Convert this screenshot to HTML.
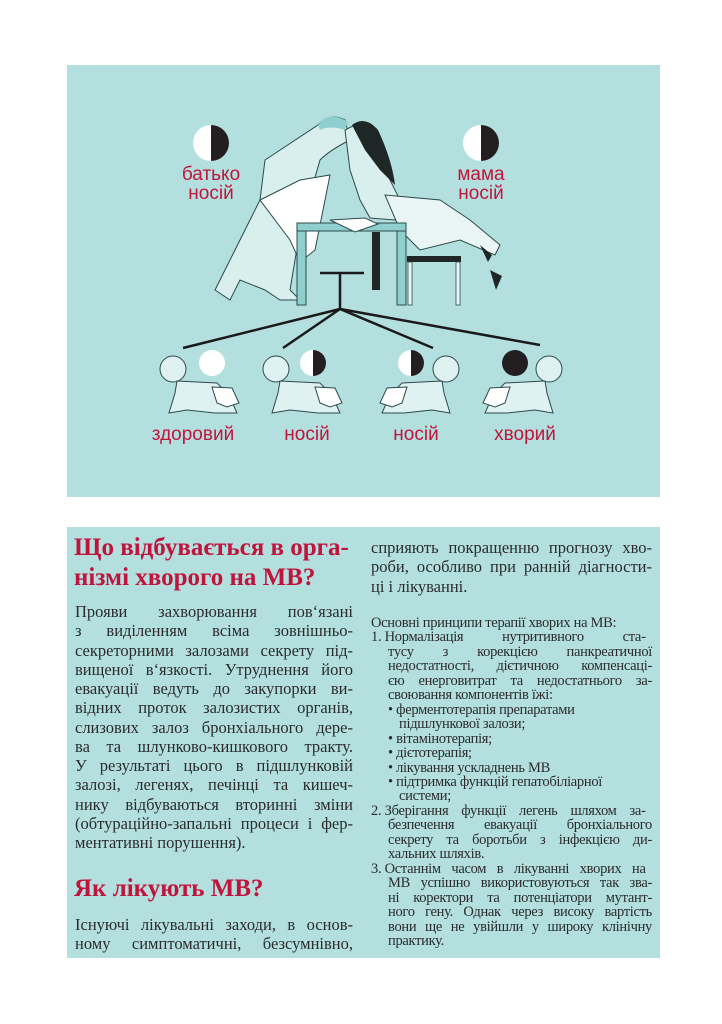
<!DOCTYPE html>
<html><head><meta charset="utf-8">
<style>
body{margin:0;width:722px;height:1024px;background:#fff;position:relative;overflow:hidden;font-family:"Liberation Serif","DejaVu Serif",serif;color:#2b2b2b}
.panel{position:absolute;left:67px;width:593px;background:#b3e0df}
.l{position:absolute;white-space:nowrap;font-size:16.5px;line-height:19.25px}
.j{text-align:justify;text-align-last:justify;white-space:normal}
.h{position:absolute;color:#c0143c;font-weight:bold;font-size:25px;line-height:30px;white-space:nowrap}
.r{position:absolute;white-space:nowrap;font-size:14.5px;line-height:14.45px;letter-spacing:-0.3px}
.lab{position:absolute;font-family:"Liberation Sans","DejaVu Sans",sans-serif;color:#c0143c;font-size:19px;text-align:center;line-height:19px}
</style></head><body>
<div class="panel" style="top:65px;height:432px"></div>
<div class="panel" style="top:527px;height:431px"></div>

<svg style="position:absolute;left:0;top:0" width="722" height="520">
<circle cx="211" cy="143" r="18" fill="#fff"/><path d="M211 125 A18 18 0 0 1 211 161 Z" fill="#231f20"/>
<circle cx="481" cy="143" r="18" fill="#fff"/><path d="M481 125 A18 18 0 0 1 481 161 Z" fill="#231f20"/>
<g fill="#d9efee" stroke="#2b4a4a" stroke-width="1">
<path d="M318 125 Q330 112 345 120 L350 140 Q330 150 320 160 L300 230 L290 290 L300 300 L280 300 L265 290 L240 280 L230 300 L215 290 L235 250 L260 200 L265 160 Z"/>
<path d="M260 200 L300 180 L330 175 L315 250 L300 262 L290 240 Z" fill="#fff"/>
<path d="M345 130 L355 125 L375 130 L380 160 L400 200 L395 220 L370 218 L360 200 L350 170 Z"/>
<path d="M385 195 L440 200 L470 220 L500 245 L495 255 L460 240 L420 250 L410 240 L400 230 Z" fill="#e9f6f5"/>
</g>
<path d="M318 125 Q330 110 348 122 L345 130 Q330 125 320 130 Z" fill="#8fcfcf"/>
<path d="M352 125 Q365 115 378 130 Q392 160 395 185 L380 170 L365 150 Z" fill="#1e2626"/>
<path d="M480 245 L492 255 L488 262 Z M490 270 L502 276 L496 290 Z" fill="#1e2626"/>
<rect x="297" y="223" width="109" height="8" fill="#8fd0cf" stroke="#2b4a4a" stroke-width="1"/>
<rect x="297" y="231" width="9" height="74" fill="#8fd0cf" stroke="#2b4a4a" stroke-width="1"/>
<rect x="397" y="231" width="9" height="74" fill="#8fd0cf" stroke="#2b4a4a" stroke-width="1"/>
<rect x="372" y="232" width="8" height="58" fill="#1e2626"/>
<path d="M330 220 L365 218 L378 224 L355 232 Z" fill="#fff" stroke="#2b4a4a"/>
<rect x="407" y="256" width="54" height="6" fill="#1e2626"/>
<rect x="408" y="262" width="4" height="43" fill="#e9f6f5" stroke="#2b4a4a" stroke-width="0.8"/>
<rect x="456" y="262" width="4" height="43" fill="#e9f6f5" stroke="#2b4a4a" stroke-width="0.8"/>
<g stroke="#1a1a1a" stroke-width="2.5" fill="none">
<line x1="320" y1="273" x2="364" y2="273"/><line x1="340" y1="273" x2="340" y2="309"/>
<line x1="340" y1="309" x2="183" y2="348"/><line x1="340" y1="309" x2="283" y2="348"/>
<line x1="340" y1="309" x2="433" y2="348"/><line x1="340" y1="309" x2="540" y2="345"/>
</g>
<circle cx="212" cy="363" r="13" fill="#fff"/>
<circle cx="313" cy="363" r="13" fill="#fff"/><path d="M313 350 A13 13 0 0 1 313 376 Z" fill="#231f20"/>
<circle cx="411" cy="363" r="13" fill="#fff"/><path d="M411 350 A13 13 0 0 1 411 376 Z" fill="#231f20"/>
<circle cx="515" cy="363" r="13" fill="#231f20"/>
<g fill="#dff1f0" stroke="#2b4a4a" stroke-width="1">
<g transform="translate(157,355)"><circle cx="16" cy="14" r="13"/><path d="M20 26 L60 28 L72 40 L80 58 L58 58 L30 55 L12 58 L18 38 Z"/><path d="M55 32 L75 33 L82 48 L70 52 L60 48 Z" fill="#fff"/></g>
<g transform="translate(260,355)"><circle cx="16" cy="14" r="13"/><path d="M20 26 L60 28 L72 40 L80 58 L58 58 L30 55 L12 58 L18 38 Z"/><path d="M55 32 L75 33 L82 48 L70 52 L60 48 Z" fill="#fff"/></g>
<g transform="translate(462,355) scale(-1,1)"><circle cx="16" cy="14" r="13"/><path d="M20 26 L60 28 L72 40 L80 58 L58 58 L30 55 L12 58 L18 38 Z"/><path d="M55 32 L75 33 L82 48 L70 52 L60 48 Z" fill="#fff"/></g>
<g transform="translate(565,355) scale(-1,1)"><circle cx="16" cy="14" r="13"/><path d="M20 26 L60 28 L72 40 L80 58 L58 58 L30 55 L12 58 L18 38 Z"/><path d="M55 32 L75 33 L82 48 L70 52 L60 48 Z" fill="#fff"/></g>
</g>
</svg>
<div class="lab" style="left:171px;top:165px;width:80px">батько<br>носій</div>
<div class="lab" style="left:441px;top:165px;width:80px">мама<br>носій</div>
<div class="lab" style="left:143px;top:425px;width:100px">здоровий</div>
<div class="lab" style="left:267px;top:425px;width:80px">носій</div>
<div class="lab" style="left:376px;top:425px;width:80px">носій</div>
<div class="lab" style="left:475px;top:425px;width:100px">хворий</div>

<div class="h" style="left:74px;top:533px">Що відбувається в орга-</div>
<div class="h" style="left:74px;top:563px">нізмі хворого на МВ?</div>
<div style="position:absolute;left:75px;top:602px;width:278px">
<div class="l j" style="position:relative">Прояви захворювання пов‘язані</div>
<div class="l j" style="position:relative">з виділенням всіма зовнішньо-</div>
<div class="l j" style="position:relative">секреторними залозами секрету під-</div>
<div class="l j" style="position:relative">вищеної в‘язкості. Утруднення його</div>
<div class="l j" style="position:relative">евакуації ведуть до закупорки ви-</div>
<div class="l j" style="position:relative">відних проток залозистих органів,</div>
<div class="l j" style="position:relative">слизових залоз бронхіального дере-</div>
<div class="l j" style="position:relative">ва та шлунково-кишкового тракту.</div>
<div class="l j" style="position:relative">У результаті цього в підшлунковій</div>
<div class="l j" style="position:relative">залозі, легенях, печінці та кишеч-</div>
<div class="l j" style="position:relative">нику відбуваються вторинні зміни</div>
<div class="l j" style="position:relative">(обтураційно-запальні процеси і фер-</div>
<div class="l" style="position:relative">ментативні порушення).</div>
</div>
<div class="h" style="left:74px;top:874px">Як лікують МВ?</div>
<div style="position:absolute;left:75px;top:915px;width:278px">
<div class="l j" style="position:relative">Існуючі лікувальні заходи, в основ-</div>
<div class="l j" style="position:relative">ному симптоматичні, безсумнівно,</div>
</div>

<div style="position:absolute;left:371px;top:538px;width:281px">
<div class="l j" style="position:relative">сприяють покращенню прогнозу хво-</div>
<div class="l j" style="position:relative">роби, особливо при ранній діагности-</div>
<div class="l" style="position:relative">ці і лікуванні.</div>
</div>
<div style="position:absolute;left:371px;top:616px;width:281px">
<div class="r" style="position:relative">Основні принципи терапії хворих на МВ:</div>
<div class="r" style="position:relative">1. <span style="display:inline-block;width:261px;text-align:justify;text-align-last:justify">Нормалізація нутритивного ста-</span></div>
<div class="r j" style="position:relative;margin-left:17px">тусу з корекцією панкреатичної</div>
<div class="r j" style="position:relative;margin-left:17px">недостатності, дієтичною компенсаці-</div>
<div class="r j" style="position:relative;margin-left:17px">єю енерговитрат та недостатнього за-</div>
<div class="r" style="position:relative;margin-left:17px">своювання компонентів їжі:</div>
<div class="r" style="position:relative;margin-left:17px">• ферментотерапія препаратами</div>
<div class="r" style="position:relative;margin-left:28px">підшлункової залози;</div>
<div class="r" style="position:relative;margin-left:17px">• вітамінотерапія;</div>
<div class="r" style="position:relative;margin-left:17px">• дієтотерапія;</div>
<div class="r" style="position:relative;margin-left:17px">• лікування ускладнень МВ</div>
<div class="r" style="position:relative;margin-left:17px">• підтримка функцій гепатобіліарної</div>
<div class="r" style="position:relative;margin-left:28px">системи;</div>
<div class="r" style="position:relative">2. <span style="display:inline-block;width:261px;text-align:justify;text-align-last:justify">Зберігання функції легень шляхом за-</span></div>
<div class="r j" style="position:relative;margin-left:17px">безпечення евакуації бронхіального</div>
<div class="r j" style="position:relative;margin-left:17px">секрету та боротьби з інфекцією ди-</div>
<div class="r" style="position:relative;margin-left:17px">хальних шляхів.</div>
<div class="r" style="position:relative">3. <span style="display:inline-block;width:261px;text-align:justify;text-align-last:justify">Останнім часом в лікуванні хворих на</span></div>
<div class="r j" style="position:relative;margin-left:17px">МВ успішно використовуються так зва-</div>
<div class="r j" style="position:relative;margin-left:17px">ні коректори та потенціатори мутант-</div>
<div class="r j" style="position:relative;margin-left:17px">ного гену. Однак через високу вартість</div>
<div class="r j" style="position:relative;margin-left:17px">вони ще не увійшли у широку клінічну</div>
<div class="r" style="position:relative;margin-left:17px">практику.</div>
</div>
</body></html>
